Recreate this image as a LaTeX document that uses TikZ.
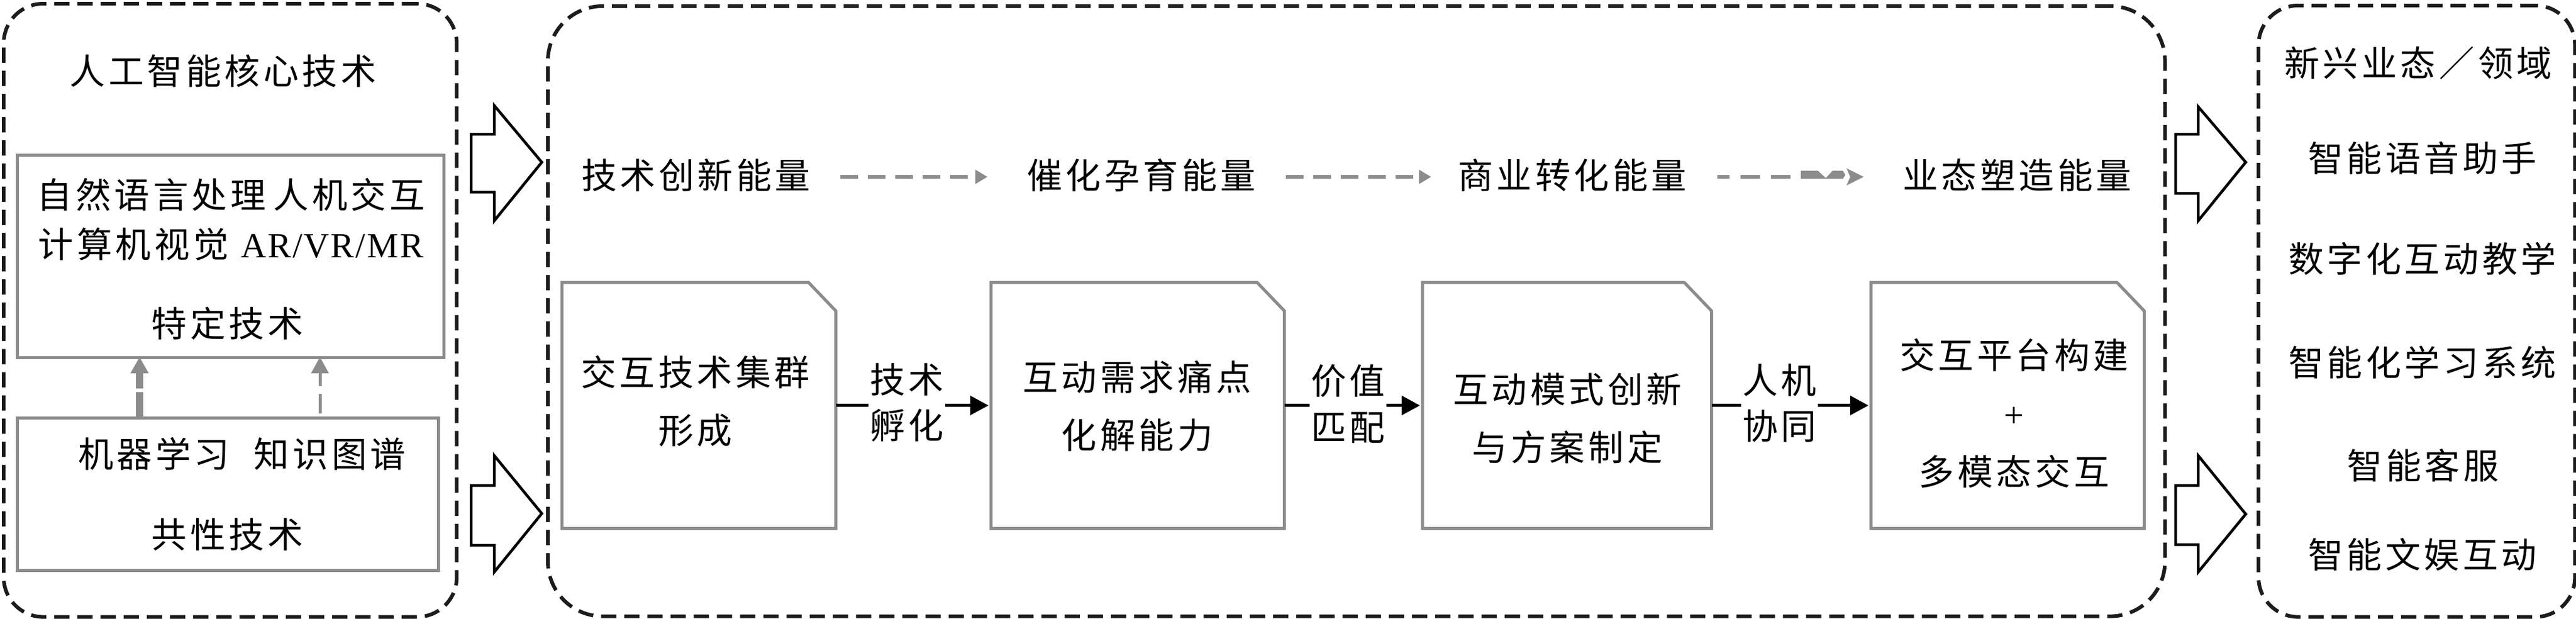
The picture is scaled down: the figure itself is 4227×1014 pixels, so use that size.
\documentclass[tikz,border=0pt]{standalone}
\usepackage{fontspec}
\setmainfont{Noto Sans CJK SC}[LetterSpace=9.5]
\newfontfamily\latin{Liberation Serif}[LetterSpace=4]
\usetikzlibrary{arrows.meta,calc}
\definecolor{gline}{HTML}{8C8C8C}
\definecolor{dline}{HTML}{1C1C1C}
\tikzset{
  bigbox/.style={draw=dline, line width=0.06cm, dash pattern=on 0.25cm off 0.13cm, inner sep=0pt, anchor=north west},
  graybox/.style={draw=gline, line width=0.05cm, inner sep=0pt, anchor=north west},
  docnode/.style={inner sep=0pt, anchor=north west, minimum height=4.02cm},
  docframe/.style={draw=gline, line width=0.05cm, line join=miter},
  txt/.style={font=\fontsize{16.5pt}{27.2pt}\selectfont, inner sep=0pt, align=center},
  lab/.style={font=\fontsize{16.5pt}{21.5pt}\selectfont, inner xsep=0.02cm, inner ysep=0.05cm, align=center, fill=white},
  conn/.style={draw=black, line width=0.05cm, -{Triangle[length=0.30cm,width=0.31cm]}, shorten >=0.04cm},
  garrow/.style={draw=gline, line width=0.055cm, dash pattern=on 0.29cm off 0.16cm, -{Triangle[length=0.2cm,width=0.22cm]}},
  gdash/.style={draw=gline, line width=0.055cm, dash pattern=on 0.32cm off 0.18cm, dash phase=0.12cm},
  thickup/.style={draw=gline, line width=0.12cm, dash pattern=on 0.4cm off 0.06cm, -{Triangle[length=0.27cm,width=0.28cm]}, shorten >=-0.04cm},
  thinup/.style={draw=gline, line width=0.05cm, dash pattern=on 0.32cm off 0.13cm, -{Triangle[length=0.27cm,width=0.28cm]}, shorten >=-0.04cm, shorten <=0.05cm},
  hollow/.style={draw=black, line width=0.045cm, fill=white, line join=miter}
}
\begin{document}
\begin{tikzpicture}[x=0.01cm, y=-0.01cm]
\useasboundingbox (0,0) rectangle (4227,1014);

% big dashed containers
\node[bigbox, minimum width=7.43cm, minimum height=10.05cm, rounded corners=0.65cm] (L) at (3,3) {};
\node[bigbox, minimum width=26.52cm, minimum height=10.00cm, rounded corners=0.9cm] (C) at (896,7) {};
\node[bigbox, minimum width=5.19cm, minimum height=10.02cm, rounded corners=0.65cm] (R) at (3703,6) {};

% left part
\node[txt] (title) at (366,116) {人工智能核心技术};
\node[graybox, minimum width=7.00cm, minimum height=3.32cm] (B1) at (26,252) {};
\node[graybox, minimum width=6.91cm, minimum height=2.50cm] (B2) at (26,683) {};
\node[txt, font=\fontsize{16.5pt}{23pt}\selectfont] (spec) at (379,360) {自然语言处理\hspace{0.12cm}人机交互\\计算机视觉\hspace{0.2cm}{\latin AR/VR/MR}};
\node[txt] (spec2) at (373,530) {特定技术};
\node[txt] (com) at (397,744) {机器学习\hspace{0.4cm}知识图谱};
\node[txt] (com2) at (373,876) {共性技术};
\draw[thickup] (229,0 |- B2.north) -- (229,0 |- B1.south);
\draw[thinup] (525,0 |- B2.north) -- (525,0 |- B1.south);

% hollow arrows
\draw[hollow] (773,220) -- (811,220) -- (811,173) -- (889,266) -- (811,362) -- (811,315) -- (773,315) -- cycle;
\draw[hollow] (773,796) -- (811,796) -- (811,747) -- (889,842) -- (811,938) -- (811,894) -- (773,894) -- cycle;
\draw[hollow] (3570,220) -- (3607,220) -- (3607,175) -- (3685,266) -- (3607,362) -- (3607,317) -- (3570,317) -- cycle;
\draw[hollow] (3570,796) -- (3607,796) -- (3607,747) -- (3685,843) -- (3607,938) -- (3607,893) -- (3570,893) -- cycle;

% energy row
\node[txt] (e1) at (1142,287) {技术创新能量};
\node[txt] (e2) at (1873,287) {催化孕育能量};
\node[txt] (e3) at (2580,287) {商业转化能量};
\node[txt] (e4) at (3310,287) {业态塑造能量};
\draw[garrow] ([xshift=0.48cm,yshift=-0.03cm]e1.east) -- ([xshift=-0.64cm,yshift=-0.03cm]e2.west);
\draw[garrow] ([xshift=0.48cm,yshift=-0.03cm]e2.east) -- ([xshift=-0.43cm,yshift=-0.03cm]e3.west);
\draw[gdash] ([xshift=0.49cm,yshift=-0.03cm]e3.east) -- ([xshift=-1.67cm,yshift=-0.03cm]e4.west);
\fill[gline] (2955,280) -- (2983,280) -- (2996,292) -- (3007,280) -- (3024,280) -- (3028,287) -- (3024,293) -- (2955,293) -- cycle;
\fill[gline] (3030,276) -- (3058,290) -- (3030,304) -- (3036,290) -- cycle;

% process boxes
\node[docnode, minimum width=4.48cm] (DA) at (922,463) {};
\node[docnode, minimum width=4.80cm] (DB) at (1626,463) {};
\node[docnode, minimum width=4.73cm] (DC) at (2334,463) {};
\node[docnode, minimum width=4.47cm] (DD) at (3070,463) {};
\foreach \n in {DA,DB,DC,DD}{
  \draw[docframe] (\n.north west) -- ($(\n.north east)+(-45,0)$) -- ($(\n.north east)+(0,47)$) -- (\n.south east) -- (\n.south west) -- cycle;
}
\node[txt] (ta) at (1141,658) {交互技术集群\\形成};
\node[txt] (tb) at (1866,666) {互动需求痛点\\化解能力};
\node[txt] (tc) at (2572,686) {互动模式创新\\与方案制定};
\node[txt] (td) at (3305,678) {交互平台构建\\{\latin +}\\多模态交互};

\draw[conn] (DA.east) -- (DB.west);
\draw[conn] (DB.east) -- (DC.west);
\draw[conn] (DC.east) -- (DD.west);
\node[lab] (l1) at (1488,660) {技术\\孵化};
\node[lab] (l2) at (2212,662) {价值\\匹配};
\node[lab] (l3) at (2920,661) {人机\\协同};

% right part
\node[txt] (r0) at (3968,103) {新兴业态／领域};
\node[txt] (r1) at (3975,259) {智能语音助手};
\node[txt] (r2) at (3975,424) {数字化互动教学};
\node[txt] (r3) at (3975,594) {智能化学习系统};
\node[txt] (r4) at (3976,763) {智能客服};
\node[txt] (r5) at (3975,909) {智能文娱互动};
\end{tikzpicture}
\end{document}
